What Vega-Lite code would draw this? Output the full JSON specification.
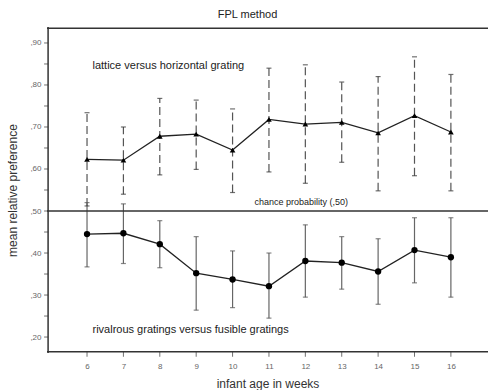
{
  "$schema": "https://vega.github.io/schema/vega-lite/v6.json",
  "width": 441,
  "height": 326,
  "autosize": {"type": "none"},
  "padding": {"left": 47, "top": 27, "right": 0, "bottom": 37},
  "config": {
    "view": {"stroke": null},
    "font": "Liberation Sans",
    "axis": {"grid": false, "domain": false, "ticks": false, "labelColor": "#666", "labelFontSize": 8, "titleFontWeight": "normal", "titleColor": "#333", "titleFontSize": 12}
  },
  "title": {"text": "FPL method", "fontSize": 11, "fontWeight": "normal", "color": "#222", "anchor": "middle", "dx": -20, "offset": 6},
  "datasets": {
    "pts": [
      {"age": 6, "series": "lattice", "mean": 0.623, "lo": 0.512, "hi": 0.734},
      {"age": 7, "series": "lattice", "mean": 0.621, "lo": 0.540, "hi": 0.700},
      {"age": 8, "series": "lattice", "mean": 0.678, "lo": 0.586, "hi": 0.768},
      {"age": 9, "series": "lattice", "mean": 0.683, "lo": 0.599, "hi": 0.764},
      {"age": 10, "series": "lattice", "mean": 0.645, "lo": 0.544, "hi": 0.743},
      {"age": 11, "series": "lattice", "mean": 0.718, "lo": 0.593, "hi": 0.840},
      {"age": 12, "series": "lattice", "mean": 0.707, "lo": 0.566, "hi": 0.848},
      {"age": 13, "series": "lattice", "mean": 0.711, "lo": 0.616, "hi": 0.807},
      {"age": 14, "series": "lattice", "mean": 0.686, "lo": 0.548, "hi": 0.820},
      {"age": 15, "series": "lattice", "mean": 0.727, "lo": 0.584, "hi": 0.867},
      {"age": 16, "series": "lattice", "mean": 0.688, "lo": 0.548, "hi": 0.825},
      {"age": 6, "series": "rivalrous", "mean": 0.445, "lo": 0.367, "hi": 0.520},
      {"age": 7, "series": "rivalrous", "mean": 0.447, "lo": 0.375, "hi": 0.517},
      {"age": 8, "series": "rivalrous", "mean": 0.421, "lo": 0.365, "hi": 0.477},
      {"age": 9, "series": "rivalrous", "mean": 0.352, "lo": 0.264, "hi": 0.439},
      {"age": 10, "series": "rivalrous", "mean": 0.337, "lo": 0.270, "hi": 0.405},
      {"age": 11, "series": "rivalrous", "mean": 0.321, "lo": 0.245, "hi": 0.400},
      {"age": 12, "series": "rivalrous", "mean": 0.381, "lo": 0.295, "hi": 0.467},
      {"age": 13, "series": "rivalrous", "mean": 0.377, "lo": 0.314, "hi": 0.439},
      {"age": 14, "series": "rivalrous", "mean": 0.356, "lo": 0.278, "hi": 0.434},
      {"age": 15, "series": "rivalrous", "mean": 0.407, "lo": 0.329, "hi": 0.484},
      {"age": 16, "series": "rivalrous", "mean": 0.390, "lo": 0.295, "hi": 0.484}
    ],
    "bigLabels": [
      {"x": 6.15, "y": 0.845, "text": "lattice versus horizontal grating"},
      {"x": 6.15, "y": 0.217, "text": "rivalrous gratings versus fusible gratings"}
    ],
    "smallLabels": [
      {"x": 10.6, "y": 0.521, "text": "chance probability (,50)"}
    ],
    "hlines": [{"v": 0.5}, {"v": 0.165}, {"v": 0.935}],
    "vlines": [{"v": 4.93}],
    "yticks": [{"v": 0.2}, {"v": 0.25}, {"v": 0.3}, {"v": 0.35}, {"v": 0.4}, {"v": 0.45}, {"v": 0.5}, {"v": 0.55}, {"v": 0.6}, {"v": 0.65}, {"v": 0.7}, {"v": 0.75}, {"v": 0.8}, {"v": 0.85}, {"v": 0.9}],
    "xticks": [{"v": 6}, {"v": 7}, {"v": 8}, {"v": 9}, {"v": 10}, {"v": 11}, {"v": 12}, {"v": 13}, {"v": 14}, {"v": 15}, {"v": 16}]
  },
  "layer": [
    {
      "data": {"name": "pts"},
      "transform": [{"filter": "datum.series === 'lattice'"}],
      "mark": {"type": "rule", "color": "#555", "strokeWidth": 1.2, "strokeDash": [8, 4]},
      "encoding": {
        "x": {"field": "age", "type": "quantitative", "scale": {"domain": [4.9, 17.02], "nice": false, "zero": false},
          "axis": {"values": [6,7,8,9,10,11,12,13,14,15,16], "title": "infant age in weeks", "labelPadding": 9, "titlePadding": 8}},
        "y": {"field": "lo", "type": "quantitative", "scale": {"domain": [0.162, 0.938], "nice": false, "zero": false},
          "axis": {"values": [0.2,0.25,0.3,0.35,0.4,0.45,0.5,0.55,0.6,0.65,0.7,0.75,0.8,0.85,0.9], "labelExpr": "',' + substring(format(datum.value, '.2f'), 2)", "title": "mean relative preference", "labelPadding": 6, "titlePadding": 10}},
        "y2": {"field": "hi"}
      }
    },
    {
      "data": {"name": "pts"},
      "transform": [{"filter": "datum.series === 'rivalrous'"}],
      "mark": {"type": "rule", "color": "#666", "strokeWidth": 1.2},
      "encoding": {
        "x": {"field": "age", "type": "quantitative"},
        "y": {"field": "lo", "type": "quantitative"},
        "y2": {"field": "hi"}
      }
    },
    {
      "data": {"name": "pts"},
      "transform": [{"fold": ["lo", "hi"], "as": ["end", "val"]}],
      "mark": {"type": "tick", "orient": "horizontal", "thickness": 1.2, "size": 5},
      "encoding": {
        "x": {"field": "age", "type": "quantitative"},
        "y": {"field": "val", "type": "quantitative"},
        "color": {"field": "series", "type": "nominal", "scale": {"domain": ["lattice", "rivalrous"], "range": ["#333", "#555"]}, "legend": null}
      }
    },
    {
      "data": {"name": "hlines"},
      "mark": {"type": "rule", "color": "#333", "strokeWidth": 1.5, "clip": false},
      "encoding": {"y": {"field": "v", "type": "quantitative"}}
    },
    {
      "data": {"name": "vlines"},
      "mark": {"type": "rule", "color": "#333", "strokeWidth": 1.5, "clip": false},
      "encoding": {"x": {"field": "v", "type": "quantitative"}}
    },
    {
      "data": {"name": "yticks"},
      "mark": {"type": "tick", "orient": "horizontal", "color": "#333", "thickness": 1, "size": 4, "xOffset": -2, "clip": false},
      "encoding": {"x": {"datum": 4.93, "type": "quantitative"}, "y": {"field": "v", "type": "quantitative"}}
    },
    {
      "data": {"name": "xticks"},
      "mark": {"type": "tick", "orient": "vertical", "color": "#333", "thickness": 1, "size": 5, "yOffset": 2.5, "clip": false},
      "encoding": {"y": {"datum": 0.165, "type": "quantitative"}, "x": {"field": "v", "type": "quantitative"}}
    },
    {
      "data": {"name": "pts"},
      "mark": {"type": "line", "color": "#222", "strokeWidth": 1.3},
      "encoding": {
        "x": {"field": "age", "type": "quantitative"},
        "y": {"field": "mean", "type": "quantitative"},
        "detail": {"field": "series"}
      }
    },
    {
      "data": {"name": "pts"},
      "mark": {"type": "point", "filled": true, "opacity": 1, "color": "#000"},
      "encoding": {
        "x": {"field": "age", "type": "quantitative"},
        "y": {"field": "mean", "type": "quantitative"},
        "shape": {"field": "series", "type": "nominal", "scale": {"domain": ["lattice", "rivalrous"], "range": ["triangle-up", "circle"]}, "legend": null},
        "size": {"field": "series", "type": "nominal", "scale": {"domain": ["lattice", "rivalrous"], "range": [32, 40]}, "legend": null}
      }
    },
    {
      "data": {"name": "bigLabels"},
      "mark": {"type": "text", "align": "left", "baseline": "middle", "color": "#222", "fontSize": 11},
      "encoding": {
        "x": {"field": "x", "type": "quantitative"},
        "y": {"field": "y", "type": "quantitative"},
        "text": {"field": "text"}
      }
    },
    {
      "data": {"name": "smallLabels"},
      "mark": {"type": "text", "align": "left", "baseline": "middle", "color": "#222", "fontSize": 9},
      "encoding": {
        "x": {"field": "x", "type": "quantitative"},
        "y": {"field": "y", "type": "quantitative"},
        "text": {"field": "text"}
      }
    }
  ]
}
